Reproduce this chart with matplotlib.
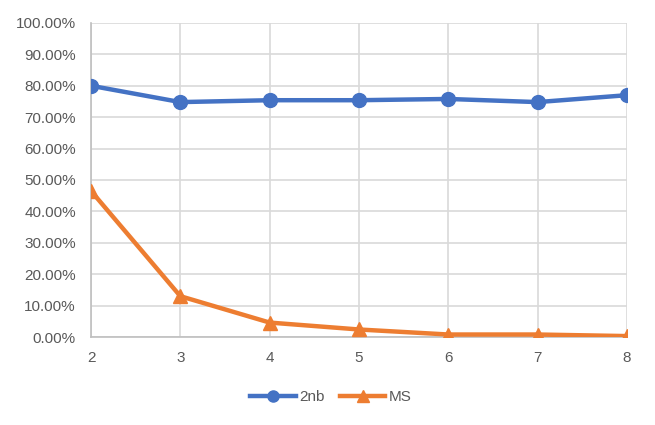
import matplotlib
matplotlib.use("Agg")
import matplotlib.pyplot as plt
from matplotlib.ticker import FuncFormatter

plt.rcParams['font.family'] = ['Liberation Sans', 'DejaVu Sans']

# data
x_vals = [2, 3, 4, 5, 6, 7, 8]
nb2 = [80.0, 74.8, 75.4, 75.4, 75.8, 74.8, 77.0]
ms = [46.5, 13.0, 4.6, 2.4, 0.8, 0.8, 0.3]
y_ticks = [0, 10, 20, 30, 40, 50, 60, 70, 80, 90, 100]

fig = plt.figure(figsize=(6.55, 4.25), dpi=100)
ax = fig.add_axes([0.139, 0.207, 0.818, 0.739])

blue = '#4472C4'
orange = '#ED7D31'
ax.plot(x_vals, nb2, '-o', color=blue, lw=3.2, ms=10, label='2nb', zorder=3)
ax.plot(x_vals, ms, '-^', color=orange, lw=3.2, ms=10, label='MS', zorder=3)

ax.set_xlim(2, 8)
ax.set_ylim(0, 100)
ax.set_xticks(x_vals)
ax.set_yticks(y_ticks)
ax.yaxis.set_major_formatter(FuncFormatter(lambda v, p: f'{v:.2f}%'))
ax.grid(True, color='#D9D9D9', lw=1.2)
ax.set_axisbelow(True)
for s in ['top', 'right']:
    ax.spines[s].set_visible(False)
for s in ['left', 'bottom']:
    ax.spines[s].set_color('#BFBFBF')
    ax.spines[s].set_linewidth(1.2)
ax.tick_params(length=0, labelsize=11, colors='#595959')
ax.tick_params(axis='y', pad=11)
ax.tick_params(axis='x', pad=10)

fig.legend(loc='center', bbox_to_anchor=(0.505, 0.066), ncol=2, frameon=False,
           fontsize=11, labelcolor='#595959', handlelength=3.0,
           handletextpad=0.2, columnspacing=1.0, markerscale=0.8)

fig.savefig('out.png', dpi=100)
